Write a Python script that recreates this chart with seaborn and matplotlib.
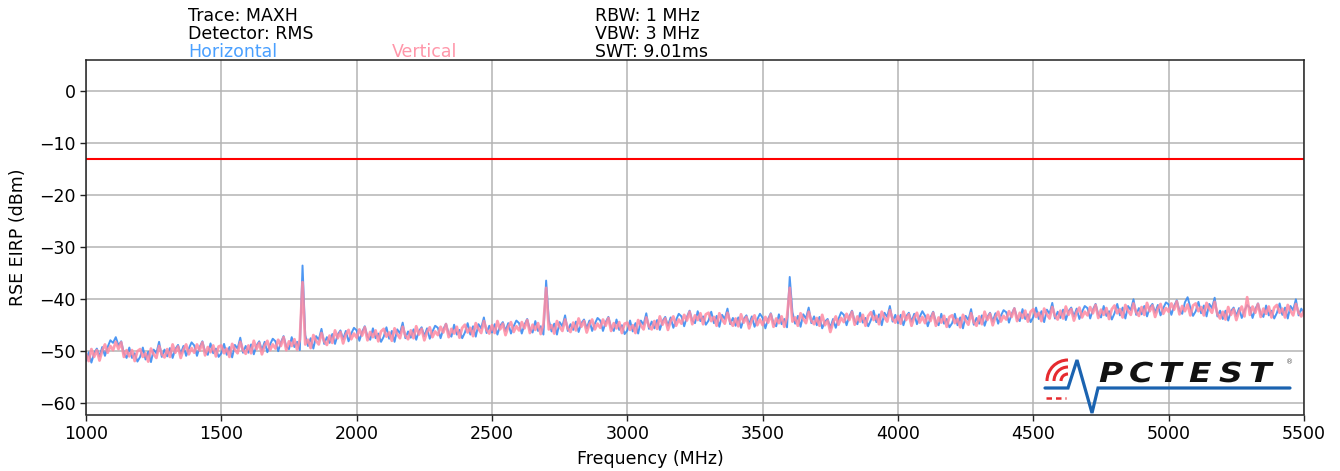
import numpy as np
import pandas as pd
import matplotlib
matplotlib.use("Agg")
import matplotlib.pyplot as plt
import seaborn as sns
from matplotlib.patches import Arc, PathPatch
from matplotlib.textpath import TextPath
from matplotlib.font_manager import FontProperties
from matplotlib.transforms import Affine2D

# sweep points, 10 MHz apart
freq = np.arange(1000, 5501, 10)

# Vertical polarisation (pink), dBm, one row per 100 MHz
vertical = [
    -50.6, -52.0, -49.7, -51.2, -49.9, -51.9, -50.0, -48.8, -50.4, -49.1,
    -49.9, -48.3, -49.7, -48.4, -51.2, -49.9, -51.1, -49.9, -52.0, -50.1,
    -49.7, -51.2, -50.5, -52.1, -49.6, -50.7, -51.4, -49.1, -50.7, -51.3,
    -49.7, -51.2, -48.8, -50.4, -49.2, -51.4, -49.8, -48.8, -50.7, -49.5,
    -50.4, -48.8, -50.0, -48.4, -50.9, -49.3, -50.3, -49.0, -51.1, -49.2,
    -49.0, -50.5, -49.6, -51.2, -48.7, -49.8, -50.5, -48.3, -49.9, -50.6,
    -49.0, -50.5, -48.1, -49.7, -48.5, -50.7, -49.0, -48.1, -49.9, -48.8,
    -49.6, -47.9, -49.1, -47.4, -49.9, -48.2, -49.1, -47.8, -49.8, -47.9,
    -36.8, -48.8, -47.9, -49.5, -47.0, -48.1, -48.8, -46.6, -48.2, -48.9,
    -47.1, -48.5, -46.1, -47.6, -46.4, -48.6, -46.9, -46.0, -47.8, -46.7,
    -47.5, -45.9, -47.1, -45.5, -48.0, -46.4, -47.4, -46.1, -48.2, -46.3,
    -45.8, -47.3, -46.5, -48.1, -45.7, -46.8, -47.6, -45.4, -47.1, -47.8,
    -46.1, -47.6, -45.3, -46.9, -45.8, -48.0, -46.4, -45.5, -47.4, -46.3,
    -47.0, -45.4, -46.5, -44.9, -47.4, -45.8, -46.7, -45.4, -47.5, -45.6,
    -45.0, -46.5, -45.6, -47.2, -44.7, -45.8, -46.6, -44.3, -46.0, -46.7,
    -45.1, -46.6, -44.3, -45.9, -44.8, -47.0, -45.4, -44.5, -46.4, -45.3,
    -46.1, -44.5, -45.7, -44.1, -46.6, -45.0, -46.0, -44.7, -46.8, -44.9,
    -37.9, -45.9, -45.1, -46.7, -44.3, -45.4, -46.2, -44.0, -45.7, -46.4,
    -44.6, -46.1, -43.8, -45.4, -44.3, -46.5, -44.9, -44.0, -45.9, -44.8,
    -45.6, -44.0, -45.2, -43.7, -46.2, -44.7, -45.7, -44.5, -46.6, -44.8,
    -44.6, -46.0, -45.1, -46.6, -44.1, -45.1, -45.9, -43.6, -45.3, -45.9,
    -44.3, -45.8, -43.4, -45.0, -43.8, -46.0, -44.3, -43.4, -45.2, -44.0,
    -44.8, -43.1, -44.2, -42.5, -44.9, -43.2, -44.1, -42.8, -44.9, -43.0,
    -42.7, -44.3, -43.5, -45.2, -42.8, -44.0, -44.8, -42.7, -44.4, -45.2,
    -43.8, -45.3, -43.0, -44.6, -43.5, -45.7, -44.1, -43.2, -45.1, -44.0,
    -45.1, -43.5, -44.6, -43.0, -45.4, -43.8, -44.7, -43.4, -45.4, -43.5,
    -37.9, -44.4, -43.6, -45.2, -42.8, -43.9, -44.7, -42.5, -44.2, -44.9,
    -43.7, -45.2, -43.1, -45.1, -44.2, -46.4, -44.6, -43.4, -45.0, -43.7,
    -44.5, -42.9, -44.1, -42.5, -45.0, -43.4, -44.4, -43.1, -45.2, -43.3,
    -42.6, -44.1, -43.3, -44.9, -42.5, -43.6, -44.4, -42.2, -43.9, -44.6,
    -43.3, -44.8, -42.5, -44.1, -43.0, -45.2, -43.6, -42.7, -44.6, -43.5,
    -44.7, -43.1, -44.3, -42.7, -45.2, -43.6, -44.6, -43.3, -45.4, -43.5,
    -43.2, -44.7, -43.9, -45.5, -43.1, -44.2, -45.0, -42.8, -44.5, -45.2,
    -43.4, -44.9, -42.5, -44.1, -42.9, -45.1, -43.5, -42.5, -44.4, -43.3,
    -44.0, -42.4, -43.5, -41.9, -44.3, -42.7, -43.7, -42.3, -44.4, -42.5,
    -42.0, -43.5, -42.7, -44.3, -41.9, -43.0, -43.8, -41.6, -43.3, -44.0,
    -42.3, -43.8, -41.5, -43.1, -42.0, -44.2, -42.6, -41.7, -43.6, -42.5,
    -43.2, -41.6, -42.8, -41.2, -43.7, -42.1, -43.1, -41.8, -43.9, -42.0,
    -41.3, -42.8, -42.0, -43.6, -41.2, -42.3, -43.1, -40.9, -42.6, -43.3,
    -41.6, -43.1, -40.8, -42.4, -41.3, -43.5, -41.9, -41.0, -42.9, -41.8,
    -42.5, -40.9, -42.1, -40.5, -43.0, -41.4, -42.4, -41.1, -43.2, -41.3,
    -40.9, -42.4, -41.6, -43.2, -40.8, -41.9, -42.7, -40.6, -42.9, -43.8,
    -42.5, -44.0, -41.6, -43.1, -42.0, -44.1, -42.5, -41.5, -43.4, -39.7,
    -43.1, -41.5, -42.7, -41.0, -43.5, -41.9, -42.9, -41.5, -43.6, -41.7,
    -41.2, -42.7, -41.9, -43.6, -41.2, -42.3, -43.2, -41.0, -42.7, -43.4,
    -42.3,
]

# Horizontal polarisation (blue), dBm
horizontal = [
    -52.0, -50.3, -52.3, -50.5, -49.6, -51.1, -49.3, -51.0, -49.3, -48.0,
    -48.5, -47.4, -49.0, -48.2, -50.5, -51.4, -49.4, -51.4, -50.5, -52.1,
    -51.2, -49.4, -51.7, -50.2, -52.2, -49.8, -50.5, -48.3, -51.2, -49.8,
    -51.1, -49.5, -51.4, -49.7, -48.9, -50.6, -49.1, -51.0, -49.6, -48.4,
    -49.0, -51.0, -49.3, -48.2, -50.2, -50.8, -48.6, -50.5, -49.6, -51.2,
    -50.5, -48.7, -50.8, -49.3, -51.3, -48.9, -49.6, -47.5, -50.4, -49.1,
    -50.4, -48.8, -50.7, -49.0, -48.2, -49.9, -48.3, -50.3, -48.8, -47.7,
    -48.2, -50.1, -48.4, -47.2, -49.2, -49.7, -47.4, -49.3, -48.3, -49.9,
    -33.6, -47.0, -49.1, -47.6, -49.6, -47.2, -47.9, -45.8, -48.7, -47.4,
    -48.5, -46.8, -48.7, -46.9, -46.1, -47.8, -46.2, -48.2, -46.7, -45.6,
    -46.1, -48.1, -46.4, -45.3, -47.3, -47.9, -45.7, -47.6, -46.7, -48.3,
    -47.3, -45.5, -47.7, -46.2, -48.3, -45.9, -46.7, -44.6, -47.6, -46.3,
    -47.5, -45.9, -47.9, -46.2, -45.5, -47.2, -45.7, -47.7, -46.3, -45.2,
    -45.6, -47.6, -45.9, -44.8, -46.7, -47.3, -45.0, -46.9, -46.0, -47.6,
    -46.5, -44.7, -46.9, -45.3, -47.3, -44.9, -45.7, -43.6, -46.6, -45.2,
    -46.5, -44.9, -46.9, -45.2, -44.5, -46.2, -44.7, -46.7, -45.3, -44.2,
    -44.7, -46.7, -45.0, -43.9, -45.9, -46.5, -44.3, -46.2, -45.3, -46.9,
    -36.5, -44.1, -46.3, -44.8, -46.9, -44.5, -45.3, -43.2, -46.2, -44.9,
    -46.0, -44.4, -46.4, -44.7, -44.0, -45.7, -44.2, -46.2, -44.8, -43.7,
    -44.2, -46.2, -44.5, -43.5, -45.5, -46.2, -44.0, -46.0, -45.1, -46.8,
    -46.1, -44.2, -46.3, -44.7, -46.7, -44.2, -45.0, -42.8, -45.8, -44.4,
    -45.7, -44.1, -46.0, -44.3, -43.5, -45.2, -43.6, -45.6, -44.1, -42.9,
    -43.4, -45.3, -43.5, -42.3, -44.2, -44.7, -42.4, -44.3, -43.4, -45.0,
    -44.2, -42.5, -44.7, -43.3, -45.4, -43.1, -43.9, -41.9, -44.9, -43.7,
    -45.2, -43.6, -45.6, -43.9, -43.2, -44.9, -43.4, -45.4, -44.0, -42.9,
    -43.7, -45.7, -43.9, -42.8, -44.7, -45.3, -43.0, -44.9, -43.9, -45.5,
    -35.8, -42.6, -44.8, -43.3, -45.4, -43.0, -43.8, -41.7, -44.7, -43.4,
    -45.1, -43.5, -45.7, -44.4, -43.9, -45.6, -43.9, -45.6, -43.9, -42.6,
    -43.1, -45.1, -43.4, -42.3, -44.3, -44.9, -42.7, -44.6, -43.7, -45.3,
    -44.1, -42.3, -44.5, -43.0, -45.1, -42.7, -43.5, -41.4, -44.4, -43.1,
    -44.7, -43.1, -45.1, -43.4, -42.7, -44.4, -42.9, -44.9, -43.5, -42.4,
    -43.3, -45.3, -43.6, -42.5, -44.5, -45.1, -42.9, -44.8, -43.9, -45.5,
    -44.7, -42.9, -45.1, -43.6, -45.7, -43.3, -44.1, -42.0, -45.0, -43.7,
    -44.8, -43.2, -45.2, -43.5, -42.7, -44.4, -42.8, -44.8, -43.3, -42.2,
    -42.6, -44.6, -42.9, -41.8, -43.7, -44.3, -42.0, -43.9, -43.0, -44.5,
    -43.5, -41.7, -43.9, -42.4, -44.5, -42.1, -42.9, -40.8, -43.8, -42.5,
    -43.7, -42.1, -44.1, -42.4, -41.7, -43.4, -41.9, -43.9, -42.5, -41.4,
    -41.8, -43.8, -42.1, -41.0, -43.0, -43.6, -41.4, -43.3, -42.4, -44.0,
    -42.8, -41.0, -43.2, -41.7, -43.8, -41.4, -42.2, -40.1, -43.1, -41.8,
    -43.0, -41.4, -43.4, -41.7, -41.0, -42.7, -41.2, -43.2, -41.8, -40.7,
    -41.1, -43.1, -41.4, -40.3, -42.3, -42.9, -40.7, -39.7, -41.7, -43.3,
    -42.4, -40.6, -42.8, -41.3, -43.4, -41.0, -41.8, -39.8, -43.4, -42.3,
    -43.9, -42.3, -44.2, -42.4, -41.7, -43.3, -41.8, -43.7, -42.3, -41.2,
    -41.7, -43.7, -42.0, -40.9, -42.9, -43.5, -41.3, -43.2, -42.3, -43.8,
    -42.7, -40.9, -43.1, -41.7, -43.8, -41.4, -42.2, -40.1, -43.2, -41.9,
    -42.9,
]

limit = -13.0
x_ticks = [1000, 1500, 2000, 2500, 3000, 3500, 4000, 4500, 5000, 5500]
y_ticks = [0, -10, -20, -30, -40, -50, -60]

blue = "#3a8cf2"
pink = "#ff8ba2"

sns.set_style("ticks")
plt.rcParams["font.family"] = ["DejaVu Sans"]
plt.rcParams["text.color"] = "black"
plt.rcParams["axes.labelcolor"] = "black"
plt.rcParams["xtick.color"] = "black"
plt.rcParams["ytick.color"] = "black"

df = pd.DataFrame({"freq": freq, "Horizontal": horizontal, "Vertical": vertical})

fig = plt.figure(figsize=(13.4, 4.71), dpi=100)
ax = fig.add_axes([86 / 1340, 1 - 414.5 / 471, 1218 / 1340, 354.5 / 471])

sns.lineplot(data=df, x="freq", y="Horizontal", color=blue, lw=1.4, alpha=0.9, ax=ax)
sns.lineplot(data=df, x="freq", y="Vertical", color=pink, lw=2.0, alpha=0.85, ax=ax)
ax.axhline(limit, color="red", lw=1.5)

ax.set_xlim(1000, 5500)
ax.set_ylim(-62.3, 6)
ax.set_xticks(x_ticks)
ax.set_yticks(y_ticks)
ax.tick_params(labelsize=12.5, length=4, width=1, color="#222222")
ax.grid(True, color="#b4b4b4", lw=1.1)
for sp in ax.spines.values():
    sp.set_color("#222222")
    sp.set_linewidth(1.1)

ax.set_xlabel("Frequency (MHz)", fontsize=12.5)
ax.set_ylabel("RSE EIRP (dBm)", fontsize=12.5)
ax.xaxis.set_label_coords(0.463, -0.099)
ax.yaxis.set_label_coords(-0.0484, 0.5)

# header info
fs = 12.5
fig.text(188 / 1340, 1 - 20.7 / 471, "Trace: MAXH", fontsize=fs, va="baseline")
fig.text(188 / 1340, 1 - 39.3 / 471, "Detector: RMS", fontsize=fs, va="baseline")
fig.text(188 / 1340, 1 - 56.7 / 471, "Horizontal", fontsize=fs, va="baseline", color="#4aa0ff")
fig.text(392 / 1340, 1 - 56.7 / 471, "Vertical", fontsize=fs, va="baseline", color="#ff97aa")
fig.text(595 / 1340, 1 - 20.7 / 471, "RBW: 1 MHz", fontsize=fs, va="baseline")
fig.text(595 / 1340, 1 - 39.3 / 471, "VBW: 3 MHz", fontsize=fs, va="baseline")
fig.text(595 / 1340, 1 - 56.7 / 471, "SWT: 9.01ms", fontsize=fs, va="baseline")

# PCTEST logo
lg = fig.add_axes([1040 / 1340, 1 - 416 / 471, 256 / 1340, 64 / 471])
lg.set_xlim(0, 256)
lg.set_ylim(64, 0)
lg.axis("off")
lg.plot([5, 28, 37, 52, 58, 250], [36, 36, 8, 61, 36, 36], color="#1b63b0", lw=2.3,
        solid_joinstyle="miter")
for r in [7, 14, 21]:
    lg.add_patch(Arc((28, 29), 2 * r, 2 * r, theta1=180, theta2=270, color="#e62a2f", lw=2.2))
lg.plot([6, 26], [46, 46], color="#e62a2f", lw=1.8, ls=(0, (2.2, 1.6)))
fp = FontProperties(family="DejaVu Sans", weight="bold", style="italic")
for i, ch in enumerate("PCTEST"):
    tp = TextPath((0, 0), ch, size=20, prop=fp)
    tr = Affine2D().scale(1.65, -1.37).translate(59 + i * 30, 30)
    lg.add_patch(PathPatch(tr.transform_path(tp), color="#111111", lw=0))
lg.text(246, 12, "®", fontsize=5, color="#555555")

fig.savefig("out.png", dpi=100)
